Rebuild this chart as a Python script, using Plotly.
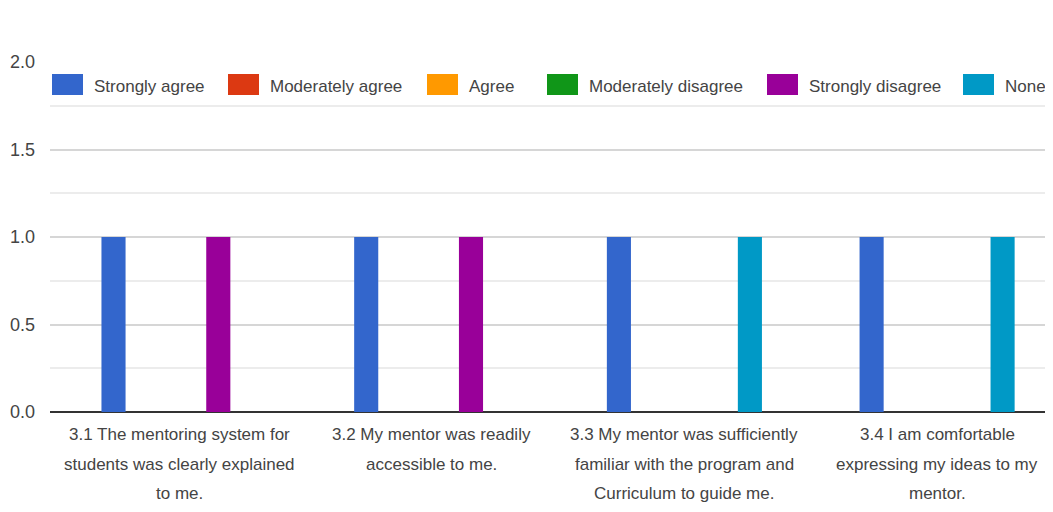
import plotly.graph_objects as go

categories = [
    "3.1 The mentoring system for<br>students was clearly explained<br>to me.",
    "3.2 My mentor was readily<br>accessible to me.",
    "3.3 My mentor was sufficiently<br>familiar with the program and<br>Curriculum to guide me.",
    "3.4 I am comfortable<br>expressing my ideas to my<br>mentor.",
]
series_names = ["Strongly agree", "Moderately agree", "Agree",
                "Moderately disagree", "Strongly disagree", "None"]
strongly_agree = [1, 1, 1, 1]
moderately_agree = [0, 0, 0, 0]
agree = [0, 0, 0, 0]
moderately_disagree = [0, 0, 0, 0]
strongly_disagree = [1, 1, 0, 0]
none_values = [0, 0, 1, 1]
series_values = [strongly_agree, moderately_agree, agree,
                 moderately_disagree, strongly_disagree, none_values]
y_ticks = [0, 0.5, 1.0, 1.5, 2.0]
y_tick_labels = ["0.0", "0.5", "1.0", "1.5", "2.0"]

colors = ["#3366cc", "#dc3912", "#ff9900", "#109618", "#990099", "#0099c6"]
FONT = "Liberation Sans, Arial, sans-serif"
TXT = "#444444"

# the page body adds an 8px offset; figure is sized to end at the window edge
OFF = 8
W, H = 1053 - OFF, 512 - OFF
ML, MT = 50 - OFF, 62 - OFF
PLOT_BOTTOM = 412 - OFF
MR, MB = 0, H - PLOT_BOTTOM
PW = W - ML - MR
PH = H - MT - MB


def px_x(p):
    return (p - OFF - ML) / PW


def px_y(p):
    return 1 - (p - OFF - MT) / PH


fig = go.Figure()
for name, vals, col in zip(series_names, series_values, colors):
    fig.add_trace(go.Bar(x=list(range(len(categories))), y=vals, name=name,
                         marker=dict(color=col, line=dict(width=0)),
                         showlegend=False))

shapes = []
annotations = []
# single-row legend, clipped at the right edge like the reference
legend_swatch_x = [52, 228, 427, 547, 767, 963]
for name, col, sx in zip(series_names, colors, legend_swatch_x):
    shapes.append(dict(type="rect", xref="paper", yref="paper",
                       x0=px_x(sx), x1=px_x(sx + 31), y0=px_y(95), y1=px_y(74),
                       fillcolor=col, line=dict(width=0), layer="above"))
    annotations.append(dict(xref="paper", yref="paper", x=px_x(sx + 40), y=px_y(86),
                            xanchor="left", yanchor="middle", text=name,
                            showarrow=False,
                            font=dict(family=FONT, size=17, color=TXT)))

# category labels, one annotation per wrapped line (reference line pitch ~29px)
line_y = [435, 464, 493]
for i, cat in enumerate(categories):
    for j, line in enumerate(cat.split("<br>")):
        annotations.append(dict(xref="x", yref="paper", x=i, y=px_y(line_y[j]),
                                xanchor="center", yanchor="middle", text=line,
                                showarrow=False,
                                font=dict(family=FONT, size=17, color=TXT)))

slot_px = 252.7
x0 = -(179 - OFF - ML) / slot_px
fig.update_layout(
    width=W, height=H,
    margin=dict(l=ML, r=MR, t=MT, b=MB, autoexpand=False),
    paper_bgcolor="white", plot_bgcolor="white",
    barmode="group", bargap=0.378, bargroupgap=0.08,
    font=dict(family=FONT, size=17, color=TXT),
    shapes=shapes, annotations=annotations,
    xaxis=dict(range=[x0, x0 + PW / slot_px], tickmode="array",
               tickvals=list(range(len(categories))), ticktext=categories,
               showticklabels=False, showgrid=False, zeroline=False,
               showline=False, ticks="", fixedrange=True),
    yaxis=dict(range=[0, 2], tickmode="array", tickvals=y_ticks,
               ticktext=y_tick_labels, showgrid=True, gridcolor="#d6d6d6",
               gridwidth=1.5, zeroline=True, zerolinecolor="#333333",
               zerolinewidth=1.5, showline=False, ticks="",
               minor=dict(tickmode="array", tickvals=[0.25, 0.75, 1.25, 1.75],
                          showgrid=True, gridcolor="#ececec", gridwidth=1.5),
               ticklabelstandoff=14,
               tickfont=dict(family=FONT, size=18, color=TXT)),
)
fig.write_html("out.html")
